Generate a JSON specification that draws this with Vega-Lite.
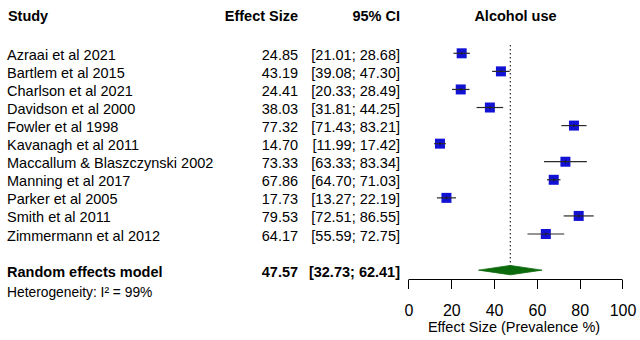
{
  "$schema": "https://vega.github.io/schema/vega-lite/v6.json",
  "width": 640,
  "height": 279.5,
  "autosize": {"type": "none"},
  "padding": {"left": 0, "top": 0, "right": 0, "bottom": 60.5},
  "background": "white",
  "config": {
    "view": {"stroke": null},
    "font": "Liberation Sans",
    "text": {"font": "Liberation Sans", "fontSize": 14.5, "color": "black", "baseline": "middle", "dy": 2.5},
    "axisX": {
      "domain": false, "grid": false, "ticks": true, "tickColor": "black", "tickSize": 9, "tickWidth": 1,
      "labelFont": "Liberation Sans", "labelFontSize": 16, "labelColor": "black", "labelPadding": 14,
      "labelFlush": false, "labelOverlap": false
    }
  },
  "datasets": {
    "studies": [
      {"study": "Azraai et al 2021", "row": 1, "es": 24.85, "lower": 21.01, "upper": 28.68, "ci": "[21.01; 28.68]"},
      {"study": "Bartlem et al 2015", "row": 2, "es": 43.19, "lower": 39.08, "upper": 47.30, "ci": "[39.08; 47.30]"},
      {"study": "Charlson et al 2021", "row": 3, "es": 24.41, "lower": 20.33, "upper": 28.49, "ci": "[20.33; 28.49]"},
      {"study": "Davidson et al 2000", "row": 4, "es": 38.03, "lower": 31.81, "upper": 44.25, "ci": "[31.81; 44.25]"},
      {"study": "Fowler et al 1998", "row": 5, "es": 77.32, "lower": 71.43, "upper": 83.21, "ci": "[71.43; 83.21]"},
      {"study": "Kavanagh et al 2011", "row": 6, "es": 14.70, "lower": 11.99, "upper": 17.42, "ci": "[11.99; 17.42]"},
      {"study": "Maccallum & Blaszczynski 2002", "row": 7, "es": 73.33, "lower": 63.33, "upper": 83.34, "ci": "[63.33; 83.34]"},
      {"study": "Manning et al 2017", "row": 8, "es": 67.86, "lower": 64.70, "upper": 71.03, "ci": "[64.70; 71.03]"},
      {"study": "Parker et al 2005", "row": 9, "es": 17.73, "lower": 13.27, "upper": 22.19, "ci": "[13.27; 22.19]"},
      {"study": "Smith et al 2011", "row": 10, "es": 79.53, "lower": 72.51, "upper": 86.55, "ci": "[72.51; 86.55]"},
      {"study": "Zimmermann et al 2012", "row": 11, "es": 64.17, "lower": 55.59, "upper": 72.75, "ci": "[55.59; 72.75]"}
    ],
    "model": [
      {"study": "Random effects model", "row": 13, "es": 47.57, "lower": 32.73, "upper": 62.41, "ci": "[32.73; 62.41]"}
    ],
    "diamond": [
      {"x": 32.73, "ylo": 13, "yhi": 13},
      {"x": 47.57, "ylo": 12.74, "yhi": 13.26},
      {"x": 62.41, "ylo": 13, "yhi": 13}
    ],
    "one": [{}]
  },
  "layer": [
    {
      "data": {"name": "studies"},
      "mark": {"type": "square", "color": "#1212d4", "opacity": 1, "size": 100, "filled": true},
      "encoding": {
        "x": {"field": "es", "type": "quantitative",
              "scale": {"domain": [-190.89, 108.18], "nice": false, "zero": false},
              "axis": {"values": [0, 20, 40, 60, 80, 100], "title": null}},
        "y": {"field": "row", "type": "quantitative",
              "scale": {"domain": [-1.95, 13.518], "reverse": true, "nice": false, "zero": false},
              "axis": null}
      }
    },
    {
      "data": {"name": "studies"},
      "mark": {"type": "rule", "color": "#2a2a2a", "strokeWidth": 1.2},
      "encoding": {
        "x": {"field": "lower", "type": "quantitative"},
        "x2": {"field": "upper"},
        "y": {"field": "row", "type": "quantitative", "axis": null}
      }
    },
    {
      "data": {"name": "studies"},
      "mark": {"type": "tick", "orient": "vertical", "color": "#111", "size": 3, "thickness": 1},
      "encoding": {
        "x": {"field": "es", "type": "quantitative"},
        "y": {"field": "row", "type": "quantitative", "axis": null}
      }
    },
    {
      "data": {"name": "studies"},
      "mark": {"type": "text", "align": "left"},
      "encoding": {
        "x": {"datum": -187.6, "type": "quantitative"},
        "y": {"field": "row", "type": "quantitative", "axis": null},
        "text": {"field": "study"}
      }
    },
    {
      "data": {"name": "studies"},
      "mark": {"type": "text", "align": "right"},
      "encoding": {
        "x": {"datum": -51.6, "type": "quantitative"},
        "y": {"field": "row", "type": "quantitative", "axis": null},
        "text": {"field": "es", "format": ".2f"}
      }
    },
    {
      "data": {"name": "studies"},
      "mark": {"type": "text", "align": "right"},
      "encoding": {
        "x": {"datum": -3.97, "type": "quantitative"},
        "y": {"field": "row", "type": "quantitative", "axis": null},
        "text": {"field": "ci"}
      }
    },
    {
      "data": {"name": "model"},
      "mark": {"type": "rule", "color": "black", "strokeWidth": 1, "strokeDash": [1.5, 2.5]},
      "encoding": {
        "x": {"field": "es", "type": "quantitative"},
        "y": {"datum": 0.54, "type": "quantitative", "axis": null},
        "y2": {"datum": 12.9}
      }
    },
    {
      "data": {"name": "diamond"},
      "mark": {"type": "area", "color": "#0b6a0b", "opacity": 1, "stroke": "#0b6a0b", "strokeWidth": 0.8},
      "encoding": {
        "x": {"field": "x", "type": "quantitative"},
        "y": {"field": "ylo", "type": "quantitative", "axis": null},
        "y2": {"field": "yhi"}
      }
    },
    {
      "data": {"name": "model"},
      "mark": {"type": "text", "align": "left", "fontWeight": "bold"},
      "encoding": {
        "x": {"datum": -187.6, "type": "quantitative"},
        "y": {"field": "row", "type": "quantitative", "axis": null},
        "text": {"field": "study"}
      }
    },
    {
      "data": {"name": "model"},
      "mark": {"type": "text", "align": "right", "fontWeight": "bold"},
      "encoding": {
        "x": {"datum": -51.6, "type": "quantitative"},
        "y": {"field": "row", "type": "quantitative", "axis": null},
        "text": {"field": "es", "format": ".2f"}
      }
    },
    {
      "data": {"name": "model"},
      "mark": {"type": "text", "align": "right", "fontWeight": "bold"},
      "encoding": {
        "x": {"datum": -3.97, "type": "quantitative"},
        "y": {"field": "row", "type": "quantitative", "axis": null},
        "text": {"field": "ci"}
      }
    },
    {
      "data": {"name": "one"},
      "mark": {"type": "text", "align": "left", "fontWeight": "bold", "text": "Study"},
      "encoding": {
        "x": {"datum": -187.2, "type": "quantitative"},
        "y": {"datum": -1.12, "type": "quantitative", "axis": null}
      }
    },
    {
      "data": {"name": "one"},
      "mark": {"type": "text", "align": "right", "fontWeight": "bold", "text": "Effect Size"},
      "encoding": {
        "x": {"datum": -51.6, "type": "quantitative"},
        "y": {"datum": -1.12, "type": "quantitative", "axis": null}
      }
    },
    {
      "data": {"name": "one"},
      "mark": {"type": "text", "align": "right", "fontWeight": "bold", "text": "95% CI"},
      "encoding": {
        "x": {"datum": -3.97, "type": "quantitative"},
        "y": {"datum": -1.12, "type": "quantitative", "axis": null}
      }
    },
    {
      "data": {"name": "one"},
      "mark": {"type": "text", "align": "center", "fontWeight": "bold", "text": "Alcohol use"},
      "encoding": {
        "x": {"datum": 50, "type": "quantitative"},
        "y": {"datum": -1.12, "type": "quantitative", "axis": null}
      }
    },
    {
      "data": {"name": "one"},
      "mark": {"type": "text", "align": "left", "fontSize": 13.8, "text": "Heterogeneity: I² = 99%"},
      "encoding": {
        "x": {"datum": -187.6, "type": "quantitative"},
        "y": {"datum": 14.1, "type": "quantitative", "axis": null}
      }
    },
    {
      "data": {"name": "one"},
      "mark": {"type": "rule", "color": "black", "strokeWidth": 1},
      "encoding": {
        "x": {"datum": 0, "type": "quantitative"},
        "x2": {"datum": 100},
        "y": {"datum": 13.518, "type": "quantitative", "axis": null}
      }
    },
    {
      "data": {"name": "one"},
      "mark": {"type": "text", "align": "center", "text": "Effect Size (Prevalence %)"},
      "encoding": {
        "x": {"datum": 49.3, "type": "quantitative"},
        "y": {"datum": 16.07, "type": "quantitative", "axis": null}
      }
    }
  ]
}
